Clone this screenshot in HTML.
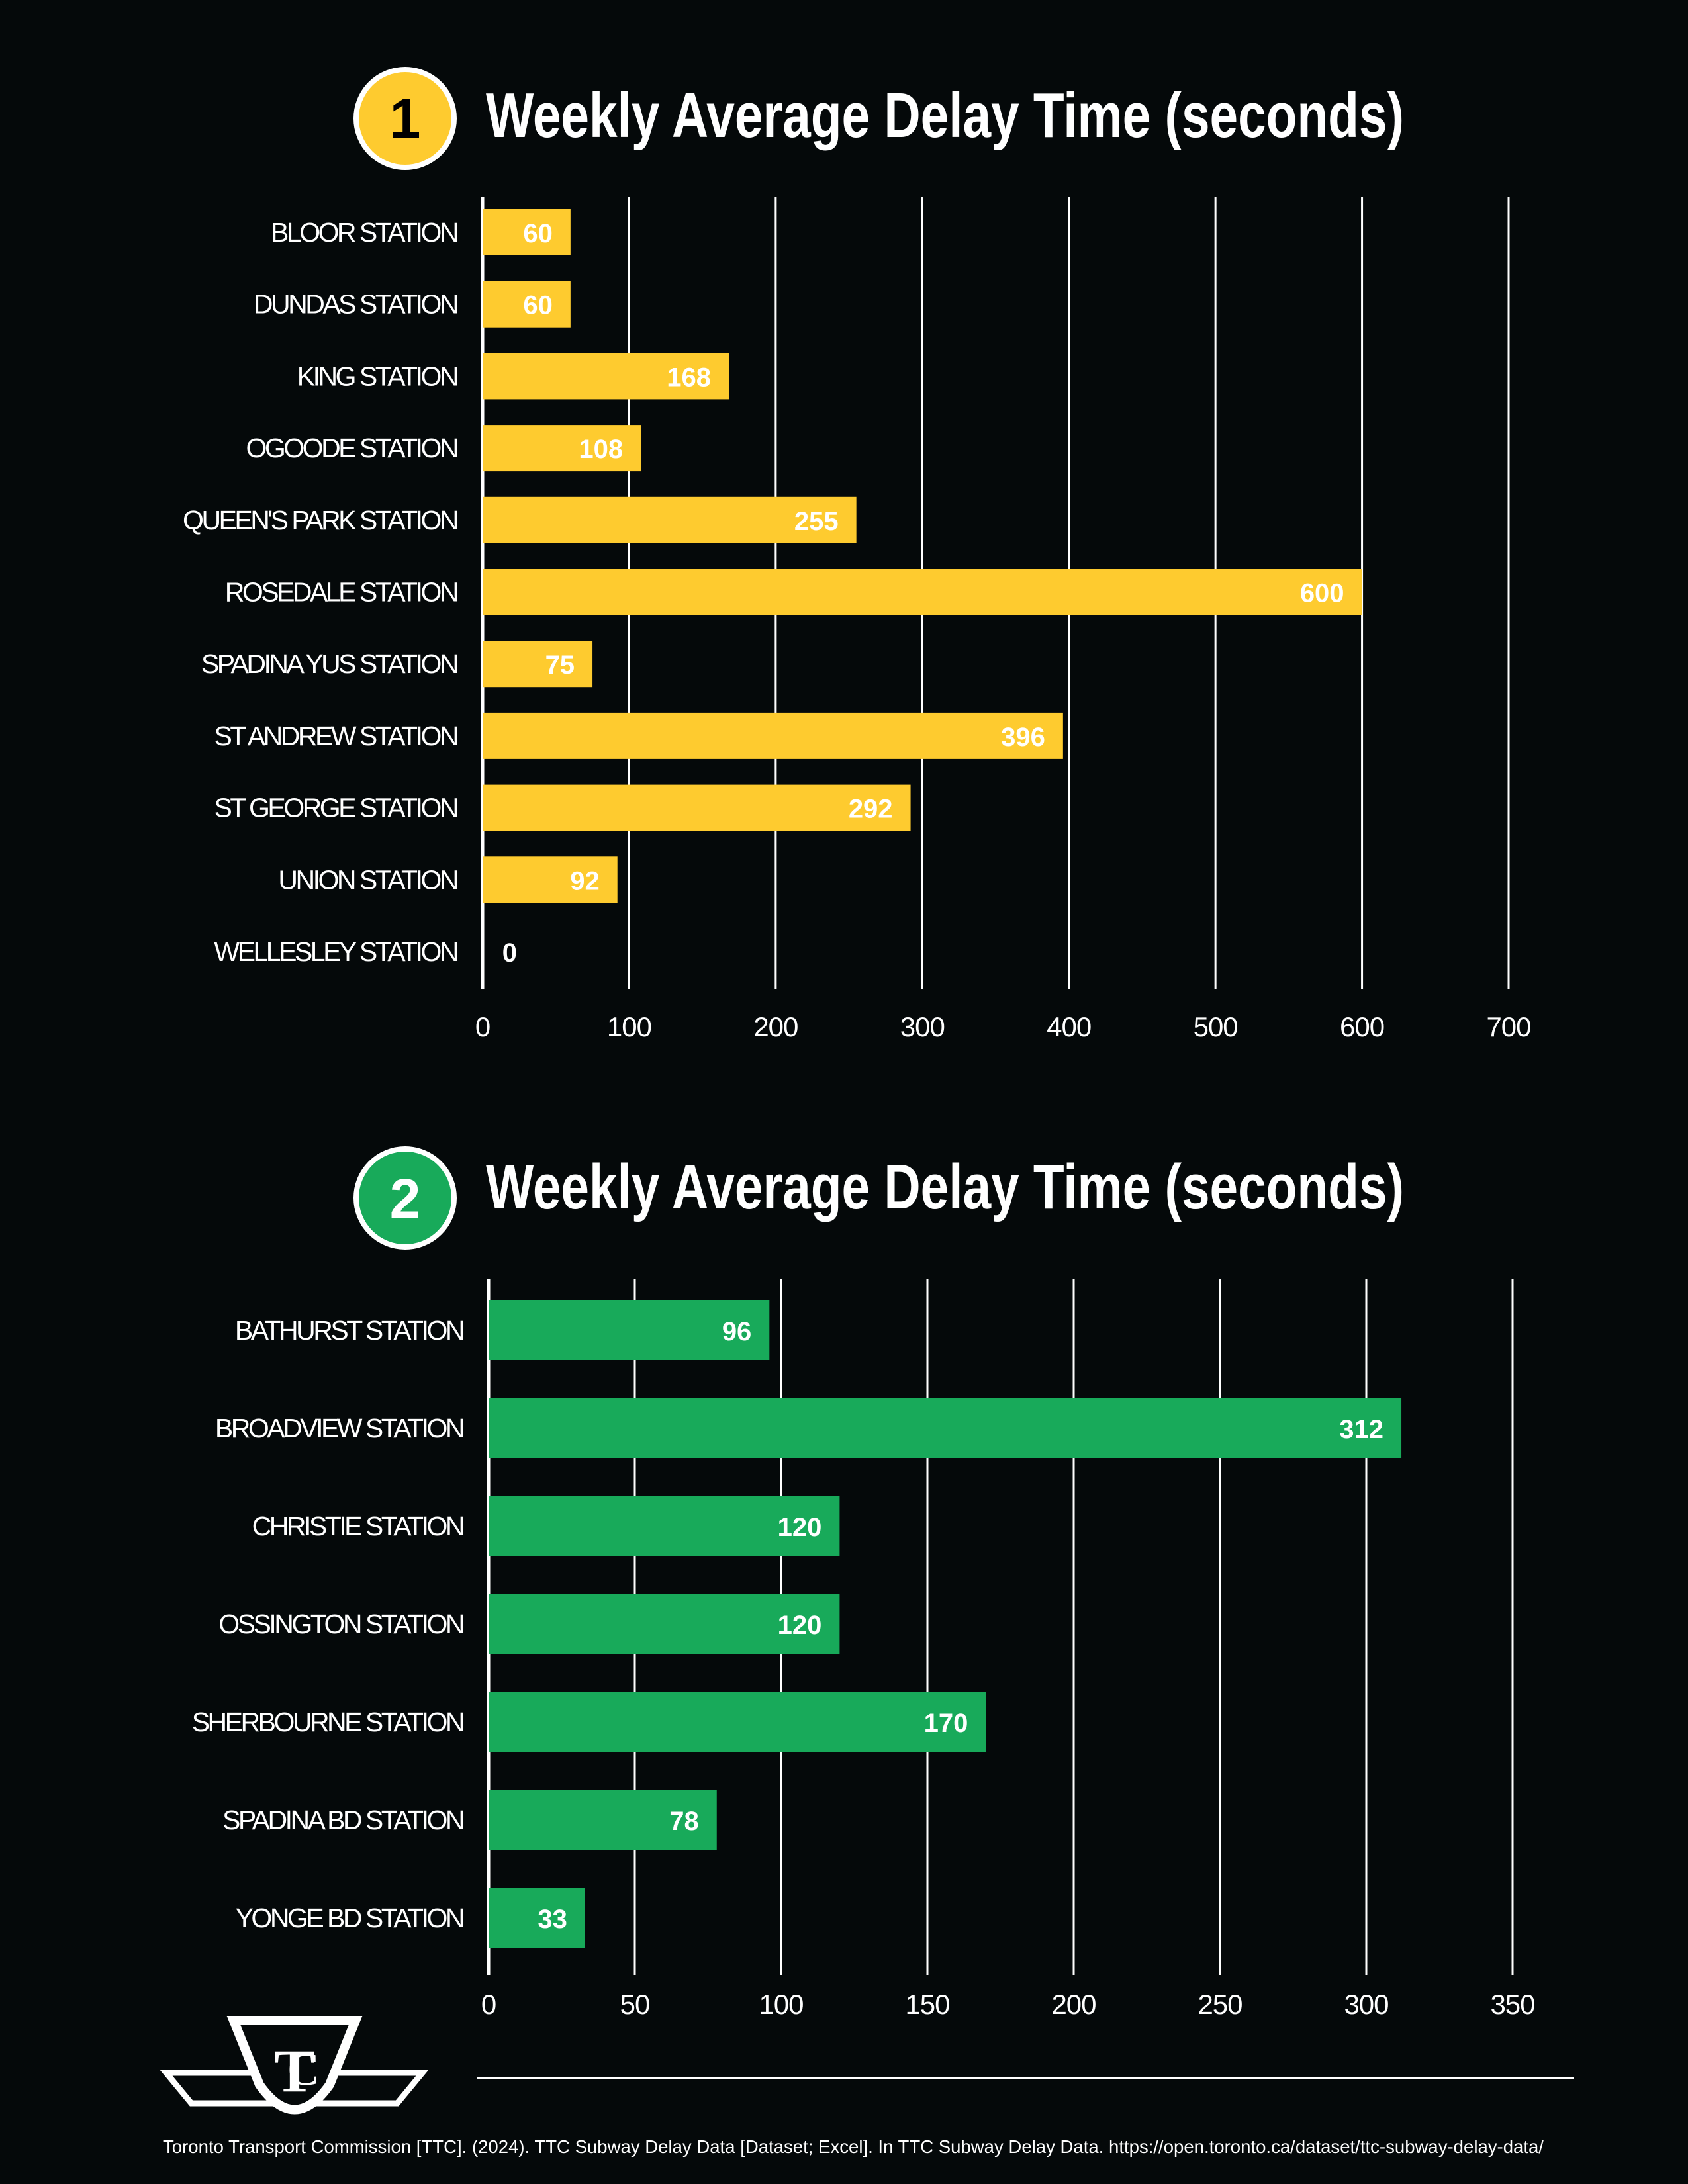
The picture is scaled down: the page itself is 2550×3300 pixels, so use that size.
<!DOCTYPE html>
<html><head><meta charset="utf-8"><style>
html,body{margin:0;padding:0;background:#05090a;}
svg{display:block;}
</style></head><body>
<svg id="s" width="2550" height="3300" viewBox="0 0 2550 3300" xmlns="http://www.w3.org/2000/svg">
<rect width="2550" height="3300" fill="#05090a"/>
<g>
<circle cx="612" cy="179" r="74" fill="#fecb2f" stroke="#fff" stroke-width="8"/>
<text x="612" y="208" text-anchor="middle" font-family="Liberation Sans, sans-serif" font-weight="bold" font-size="84" fill="#000">1</text>
<text x="734" y="207" font-family="Liberation Sans, sans-serif" font-weight="bold" font-size="96" fill="#fff" textLength="1387" lengthAdjust="spacingAndGlyphs">Weekly Average Delay Time (seconds)</text>
</g>
<g>
<circle cx="612" cy="1810" r="74" fill="#18aa5a" stroke="#fff" stroke-width="8"/>
<text x="612" y="1840" text-anchor="middle" font-family="Liberation Sans, sans-serif" font-weight="bold" font-size="84" fill="#fff">2</text>
<text x="734" y="1826" font-family="Liberation Sans, sans-serif" font-weight="bold" font-size="96" fill="#fff" textLength="1387" lengthAdjust="spacingAndGlyphs">Weekly Average Delay Time (seconds)</text>
</g>
<g id="c1"></g>
<g id="c2"></g>
<g>
<polygon points="251,3132 638,3132 600,3178 289,3178" fill="#05090a" stroke="#fff" stroke-width="9"/>
<path d="M353,3053 L537,3053 L498,3150 Q445,3225 392,3150 Z" fill="#05090a" stroke="#fff" stroke-width="14"/>
<text x="445" y="3160" text-anchor="middle" font-family="Liberation Serif, serif" font-weight="bold" font-size="92" fill="#fff">T</text>
<text x="458" y="3150" text-anchor="middle" font-family="Liberation Serif, serif" font-size="70" fill="#fff">C</text>
</g>
<line x1="720" y1="3140" x2="2378" y2="3140" stroke="#fff" stroke-width="4"/>
<text x="246" y="3253" font-family="Liberation Sans, sans-serif" font-size="28" fill="#fff" textLength="2086" lengthAdjust="spacingAndGlyphs">Toronto Transport Commission [TTC]. (2024). TTC Subway Delay Data [Dataset; Excel]. In TTC Subway Delay Data. https://open.toronto.ca/dataset/ttc-subway-delay-data/</text>
</svg>
<script>
const cats1 = ["BLOOR STATION","DUNDAS STATION","KING STATION","OGOODE STATION","QUEEN'S PARK STATION","ROSEDALE STATION","SPADINA YUS STATION","ST ANDREW STATION","ST GEORGE STATION","UNION STATION","WELLESLEY STATION"];
const vals1 = [60,60,168,108,255,600,75,396,292,92,0];
const ticks1 = [0,100,200,300,400,500,600,700];
const cats2 = ["BATHURST STATION","BROADVIEW STATION","CHRISTIE STATION","OSSINGTON STATION","SHERBOURNE STATION","SPADINA BD STATION","YONGE BD STATION"];
const vals2 = [96,312,120,120,170,78,33];
const ticks2 = [0,50,100,150,200,250,300,350];
const NS="http://www.w3.org/2000/svg";
function mk(p,tag,a,txt){const e=document.createElementNS(NS,tag);for(const k in a)e.setAttribute(k,a[k]);if(txt!==undefined)e.textContent=txt;p.appendChild(e);return e;}
function draw(g,cats,vals,ticks,o){
  const xs=v=>o.x0+(v-ticks[0])/(ticks[ticks.length-1]-ticks[0])*(o.x1-o.x0);
  const ys=i=>o.c0+i*o.pitch;
  ticks.forEach((t,i)=>{
    const l=mk(g,'line',{x1:xs(t),x2:xs(t),y1:o.top,y2:o.bot,stroke:'#fff','stroke-width':t===0?5:3});
    
    
    const tl=mk(g,'text',{x:xs(t),y:o.tickY,'text-anchor':'middle','font-family':'Liberation Sans, sans-serif','font-size':42,fill:'#fff','letter-spacing':-1},String(t));
    
    
  });
  cats.forEach((c,i)=>{
    const cy=ys(i);
    const lab=mk(g,'text',{x:o.labX,y:cy+14,'text-anchor':'end','font-family':'Liberation Sans, sans-serif','font-size':41,fill:'#fff','letter-spacing':-3.5},c);
    
    
    const w=xs(vals[i])-xs(0);
    if(w>0){
      const b=mk(g,'rect',{x:xs(0),y:cy-o.bh/2,width:w,height:o.bh,fill:o.color});
      
      
    }
    const vx=Math.max(xs(vals[i])-27,xs(0)+52);
    const vl=mk(g,'text',{x:vx,y:cy+15,'text-anchor':'end','font-family':'Liberation Sans, sans-serif','font-weight':'bold','font-size':40,fill:'#fff'},String(vals[i]));
    
    
  });
}
draw(document.getElementById('c1'),cats1,vals1,ticks1,{x0:729,x1:2279,top:297,bot:1494,c0:351,pitch:108.7,bh:70,labX:690,tickY:1566,color:'#fecb2f'});
draw(document.getElementById('c2'),cats2,vals2,ticks2,{x0:738,x1:2285,top:1932,bot:2984,c0:2010,pitch:148,bh:90,labX:699,tickY:3043,color:'#18aa5a'});
</script>
</body></html>
